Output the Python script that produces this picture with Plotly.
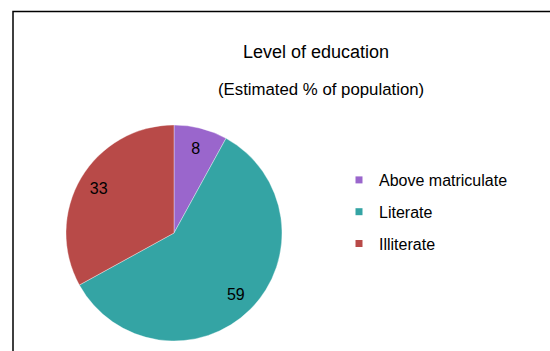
import plotly.graph_objects as go

# Level of education, estimated share of the population (%)
categories = ["Above matriculate", "Literate", "Illiterate"]
shares = [8, 59, 33]
colors = ["#9A66CC", "#34A4A4", "#B84A48"]

title_text = "Level of education"
subtitle_text = "(Estimated % of population)"

W, H = 550, 351
FONT = "Liberation Sans, Arial, sans-serif"
PIE_DOMAIN = dict(x=[66 / W, 282 / W], y=[10 / H, 226 / H])

fig = go.Figure()

# Filled pie
fig.add_trace(go.Pie(
    labels=categories,
    values=shares,
    sort=False,
    direction="clockwise",
    rotation=0,
    marker=dict(colors=colors, line=dict(color="rgba(255,255,255,0.6)", width=0.6)),
    textinfo="none",
    domain=PIE_DOMAIN,
    showlegend=False,
    hoverinfo="label+value",
))

# Transparent ring on top of it: carries the value labels out toward the rim
fig.add_trace(go.Pie(
    labels=categories,
    values=shares,
    sort=False,
    direction="clockwise",
    rotation=0,
    hole=0.62,
    marker=dict(colors=["rgba(0,0,0,0)"] * len(shares), line=dict(width=0)),
    textinfo="value",
    textposition="inside",
    insidetextorientation="horizontal",
    textfont=dict(family=FONT, size=16, color="#000000"),
    domain=PIE_DOMAIN,
    showlegend=False,
    hoverinfo="skip",
))

# Legend entries with small square keys, one group per category
for name, col in zip(categories, colors):
    fig.add_trace(go.Scatter(
        x=[None], y=[None], mode="markers", name=name,
        legendgroup=name,
        marker=dict(symbol="square", size=7, color=col),
        hoverinfo="skip",
    ))

fig.update_layout(
    width=W, height=H,
    margin=dict(l=0, r=0, t=0, b=0),
    paper_bgcolor="white", plot_bgcolor="white",
    font=dict(family=FONT, color="#000000"),
    xaxis=dict(visible=False), yaxis=dict(visible=False),
    legend=dict(
        x=(381 - 42) / W, y=1 - 163 / H, xanchor="left", yanchor="top",
        font=dict(family=FONT, size=16, color="#000000"),
        tracegroupgap=8, itemsizing="trace",
        bgcolor="rgba(0,0,0,0)",
    ),
    annotations=[
        dict(text=title_text, x=316 / W, y=1 - 52 / H, xref="paper", yref="paper",
             xanchor="center", yanchor="middle", showarrow=False,
             font=dict(family=FONT, size=18, color="#000000")),
        dict(text=subtitle_text, x=321 / W, y=1 - 90 / H, xref="paper", yref="paper",
             xanchor="center", yanchor="middle", showarrow=False,
             font=dict(family=FONT, size=16.8, color="#000000")),
    ],
    shapes=[
        # chart frame, running off the right and bottom edges
        dict(type="rect", xref="paper", yref="paper",
             x0=13 / W, x1=1.02, y0=-0.02, y1=1 - 11.5 / H,
             line=dict(color="#000000", width=1.5), fillcolor="rgba(0,0,0,0)",
             layer="below"),
    ],
)

fig.write_html("out.html")
